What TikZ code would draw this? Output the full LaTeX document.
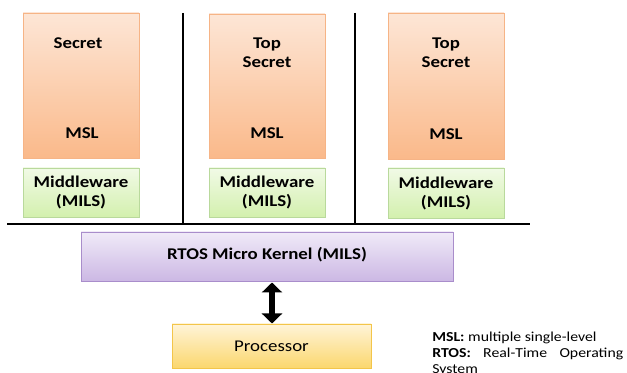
\documentclass[tikz,border=0pt]{standalone}
\usepackage{fontspec}
\setmainfont[FakeStretch=1.15]{Carlito}
\usetikzlibrary{fit,shadows,arrows.meta}
\definecolor{orTop}{HTML}{FDE6D6}
\definecolor{orBot}{HTML}{FAB98A}
\definecolor{orDraw}{HTML}{F6B486}
\definecolor{grTop}{HTML}{F1FAE6}
\definecolor{grBot}{HTML}{D3F0AE}
\definecolor{grDraw}{HTML}{B9D99C}
\definecolor{puTop}{HTML}{F0EAF8}
\definecolor{puBot}{HTML}{CCB8E4}
\definecolor{puDraw}{HTML}{A98DCB}
\definecolor{yeTop}{HTML}{FFF4D8}
\definecolor{yeBot}{HTML}{FBD76E}
\definecolor{yeDraw}{HTML}{F3C54A}
\tikzset{
  boxbase/.style={inner sep=0pt, line width=0.6pt,
    drop shadow={opacity=0.25, shadow xshift=0.8pt, shadow yshift=-0.8pt}},
  secbox/.style={boxbase, draw=orDraw, top color=orTop, bottom color=orBot},
  midbox/.style={boxbase, draw=grDraw, top color=grTop, bottom color=grBot},
  kerbox/.style={boxbase, draw=puDraw, top color=puTop, bottom color=puBot},
  probox/.style={boxbase, draw=yeDraw, top color=yeTop, bottom color=yeBot},
  lbl/.style={font=\fontsize{12.3pt}{14.25pt}\selectfont\bfseries, align=center, inner sep=0pt},
  legtxt/.style={anchor=base west, inner sep=0pt, font=\fontsize{10.3pt}{10.5pt}\selectfont},
  sep/.style={line width=1.9pt, black},
  bigarrow/.style={line width=4.6pt, {Triangle[width=15pt,length=7.5pt]}-{Triangle[width=15pt,length=7.5pt]}}
}
\begin{document}
\begin{tikzpicture}[x=0.75pt,y=-0.75pt]
\useasboundingbox (0,0) rectangle (627,373);
\clip (0,0) rectangle (627,373);
% tall boxes
\node[secbox, fit={(23,13) (139,158)}] (s1) {};
\node[secbox, fit={(209,14) (325,158)}] (s2) {};
\node[secbox, fit={(388,13) (504,159)}] (s3) {};
\node[lbl] (t1) at (78,43) {Secret};
\node[lbl] (m1) at (82,133) {MSL};
\node[lbl] (t2) at (267,52.5) {Top\\Secret};
\node[lbl] (m2) at (267,133) {MSL};
\node[lbl] (t3) at (446,52.5) {Top\\Secret};
\node[lbl] (m3) at (446,134.5) {MSL};
% middleware
\node[midbox, fit={(23,168) (139,217)}] (w1) {};
\node[midbox, fit={(209,168) (325,217)}] (w2) {};
\node[midbox, fit={(388,168) (504,218)}] (w3) {};
\node[lbl] (wt1) at (w1.center) {Middleware\\(MILS)};
\node[lbl] (wt2) at (w2.center) {Middleware\\(MILS)};
\node[lbl] (wt3) at (w3.center) {Middleware\\(MILS)};
% separators
\coordinate (v1t) at (183,13);
\coordinate (v1b) at (183,224);
\coordinate (v2t) at (355,13);
\coordinate (v2b) at (355,224);
\coordinate (hl) at (7,224);
\coordinate (hr) at (530,224);
\draw[sep] (v1t) -- (v1b);
\draw[sep] (v2t) -- (v2b);
\draw[line width=2.2pt] (hl) -- (hr);
% kernel and processor
\node[kerbox, fit={(81,232) (453,281)}] (k) {};
\node[lbl] (kt) at (267,255) {RTOS Micro Kernel (MILS)};
\node[probox, fit={(172,324) (371,368)}] (p) {};
\node[font=\fontsize{12.3pt}{14pt}\selectfont, inner sep=0pt] (pt) at (p.center) {Processor};
\coordinate (atop) at (272,282.5);
\coordinate (abot) at (272,323.5);
\draw[bigarrow] (atop) -- (abot);
% legend
\node[legtxt] (leg1) at (432,341.5) {\textbf{MSL:} multiple single-level};
\node[legtxt] (leg2) at (432,357) {\makebox[143.25pt][s]{\textbf{RTOS:}\ \ Real-Time\ \ Operating}};
\node[legtxt] (leg3) at (432,373) {System};
\end{tikzpicture}
\end{document}
